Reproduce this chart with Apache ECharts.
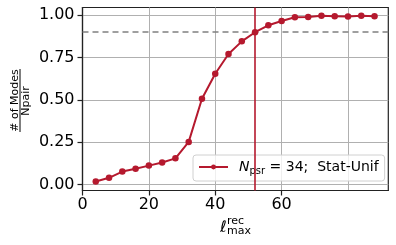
<!DOCTYPE html>
<html><head><meta charset="utf-8">
<script src="https://cdn.jsdelivr.net/npm/echarts@6/dist/echarts.min.js"></script>
<style>html,body{margin:0;padding:0;background:#fff}#c{width:396px;height:245px}</style>
</head><body><div id="c"></div>
<script>
const lmax = [4,8,12,16,20,24,28,32,36,40,44,48,52,56,60,64,68,72,76,80,84,88];
const fracModes = [0.018,0.040,0.077,0.094,0.112,0.130,0.155,0.252,0.507,0.655,0.771,0.846,0.900,0.941,0.966,0.988,0.990,0.997,0.995,0.993,0.997,0.995];
const xTicks = [0,20,40,60,80];
const yTicks = [0,0.25,0.5,0.75,1.0];
const thresholdY = [0.9];
const chosenL = [52];
const seriesName = 'N_psr = 34; Stat-Unif';

const RED = '#b5192e';
const FONT = 'DejaVu Sans';
const chart = echarts.init(document.getElementById('c'), null, {renderer:'canvas'});
chart.setOption({
  animation:false,
  backgroundColor:'#fff',
  grid:{left:82.5, top:7.5, width:305.8, height:183, show:true, borderColor:'#222', borderWidth:1.2, backgroundColor:'transparent'},
  xAxis:{type:'value', min:0, max:92.15, interval:20,
    axisLine:{show:true, onZero:false, lineStyle:{color:'#222', width:1.2}},
    axisTick:{show:true, length:5, customValues:xTicks, lineStyle:{color:'#222', width:1.2}},
    axisLabel:{customValues:xTicks, showMaxLabel:false, margin:6, fontFamily:FONT, fontSize:16, color:'#000', formatter:v=>String(v)},
    splitLine:{show:true, customValues:xTicks, lineStyle:{color:'#b0b0b0', width:1}}},
  yAxis:{type:'value', min:-0.035, max:1.046, interval:0.25,
    axisLine:{show:true, onZero:false, lineStyle:{color:'#222', width:1.2}},
    axisTick:{show:true, length:5, customValues:yTicks, lineStyle:{color:'#222', width:1.2}},
    axisLabel:{customValues:yTicks, margin:8, fontFamily:FONT, fontSize:16, color:'#000', formatter:v=>v.toFixed(2)},
    splitLine:{show:true, customValues:yTicks, lineStyle:{color:'#b0b0b0', width:1}}},
  legend:{left:193, top:155, orient:'horizontal', padding:[5,6,5,5],
    backgroundColor:'rgba(255,255,255,0.8)', borderColor:'#d0d0d0', borderWidth:1, borderRadius:3,
    itemWidth:29, itemHeight:6,
    data:[seriesName],
    formatter:()=>'{i|N}{s|psr}{n| = 34;  Stat-Unif}',
    textStyle:{fontFamily:FONT, fontSize:14, color:'#000',
      rich:{
        i:{fontFamily:FONT, fontStyle:'italic', fontSize:14, lineHeight:18, padding:[0,0,0,6]},
        s:{fontFamily:FONT, fontSize:10, lineHeight:10, verticalAlign:'bottom'},
        n:{fontFamily:FONT, fontSize:14, lineHeight:18}
      }}},
  series:[{
    name:seriesName, type:'line',
    data:lmax.map((x,i)=>[x,fracModes[i]]),
    symbol:'circle', symbolSize:6.5, itemStyle:{color:RED}, lineStyle:{color:RED, width:2},
    z:5,
    markLine:{silent:true, symbol:'none', label:{show:false}, animation:false,
      data:[
        ...thresholdY.map(v=>({yAxis:v, lineStyle:{color:'#808080', type:[6,4], width:1.6}})),
        ...chosenL.map(v=>({xAxis:v, lineStyle:{color:RED, type:'solid', width:1.6}}))
      ]}
  }],
  graphic:[
    {type:'text', x:15, y:100.5, rotation:Math.PI/2, style:{text:'# of Modes', font:'11px "DejaVu Sans"', fill:'#000', align:'center', verticalAlign:'middle'}},
    {type:'line', shape:{x1:20, y1:69, x2:20, y2:132}, style:{stroke:'#000', lineWidth:1}},
    {type:'text', x:26, y:101, rotation:Math.PI/2, style:{text:'Npair', font:'11px "DejaVu Sans"', fill:'#000', align:'center', verticalAlign:'middle'}},
    {type:'text', x:220, y:227.5, style:{text:'ℓ', font:'italic 16px "DejaVu Sans"', fill:'#000', align:'left', verticalAlign:'middle'}},
    {type:'text', x:227, y:221, style:{text:'rec', font:'11px "DejaVu Sans"', fill:'#000', align:'left', verticalAlign:'middle'}},
    {type:'text', x:227, y:231, style:{text:'max', font:'11px "DejaVu Sans"', fill:'#000', align:'left', verticalAlign:'middle'}}
  ]
});
</script></body></html>
